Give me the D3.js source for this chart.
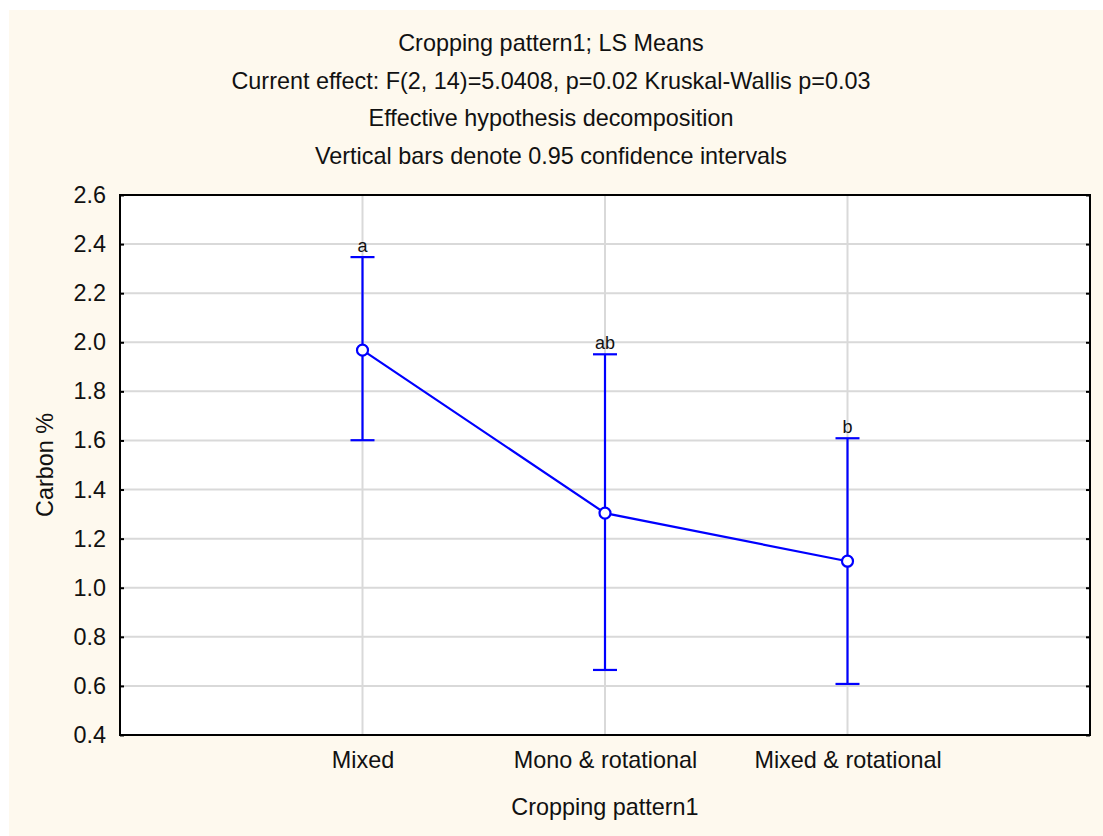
<!DOCTYPE html>
<html>
<head>
<meta charset="utf-8">
<script src="https://cdn.jsdelivr.net/npm/d3@7"></script>
<style>
  body { margin: 0; background: #ffffff; }
  svg text { font-family: "Liberation Sans", Arial, sans-serif; fill: #111; }
</style>
</head>
<body>
<svg id="chart" width="1103" height="836"></svg>
<script>
// data
const categories = ["Mixed", "Mono & rotational", "Mixed & rotational"];
const means = [1.968, 1.304, 1.108];
const lower = [1.601, 0.665, 0.608];
const upper = [2.347, 1.951, 1.609];
const letters = ["a", "ab", "b"];
const yTicks = [0.4, 0.6, 0.8, 1.0, 1.2, 1.4, 1.6, 1.8, 2.0, 2.2, 2.4, 2.6];
const titleLines = [
    "Cropping pattern1; LS Means",
    "Current effect: F(2, 14)=5.0408, p=0.02 Kruskal-Wallis p=0.03",
    "Effective hypothesis decomposition",
    "Vertical bars denote 0.95 confidence intervals"
];

const svg = d3.select("#chart");
const W = 1103, H = 836;
const m = {left: 120, right: 1090, top: 195, bottom: 735};
const fs = "23.4px";

// background
svg.append("rect").attr("x", 9).attr("y", 10).attr("width", W - 9).attr("height", H - 10)
    .style("fill", "#fef9ee");
svg.append("rect").attr("x", m.left).attr("y", m.top)
    .attr("width", m.right - m.left).attr("height", m.bottom - m.top)
    .style("fill", "white");

// scales
const x = d3.scalePoint()
    .domain(["", ...categories, " "])
    .range([m.left, m.right]);
const y = d3.scaleLinear().domain([0.4, 2.6]).range([m.bottom, m.top]);

// gridlines
svg.append("g").selectAll("line")
    .data(yTicks.slice(1, -1)).enter()
    .append("line")
    .attr("x1", m.left).attr("x2", m.right)
    .attr("y1", d => y(d)).attr("y2", d => y(d))
    .style("stroke", "#d9d9d9").style("stroke-width", 2);
svg.append("g").selectAll("line")
    .data(categories).enter()
    .append("line")
    .attr("x1", d => x(d)).attr("x2", d => x(d))
    .attr("y1", m.top).attr("y2", m.bottom)
    .style("stroke", "#d9d9d9").style("stroke-width", 2);

// axes
const axisL = svg.append("g").attr("transform", `translate(${m.left},0)`)
    .call(d3.axisLeft(y).tickValues(yTicks).tickFormat(d3.format(".1f")).tickSizeInner(-4).tickSizeOuter(0).tickPadding(14));
const axisR = svg.append("g").attr("transform", `translate(${m.right},0)`)
    .call(d3.axisRight(y).tickValues(yTicks).tickFormat("").tickSizeInner(-4).tickSizeOuter(0));
const axisB = svg.append("g").attr("transform", `translate(0,${m.bottom})`)
    .call(d3.axisBottom(x).tickValues(categories).tickSize(0).tickPadding(16));
[axisL, axisR, axisB].forEach(g => {
    g.select(".domain").remove();
    g.selectAll(".tick line").style("stroke", "#000").style("stroke-width", 2);
    g.selectAll("text").style("font-size", fs).style("font-family", "Liberation Sans, Arial, sans-serif").style("fill", "#111");
});
axisB.selectAll(".tick line").remove();

// frame
svg.append("rect").attr("x", m.left).attr("y", m.top)
    .attr("width", m.right - m.left).attr("height", m.bottom - m.top)
    .style("fill", "none").style("stroke", "#000").style("stroke-width", 2);

// error bars
const eb = svg.append("g").selectAll("g")
    .data(categories).enter().append("g");
eb.append("line")
    .attr("x1", d => x(d)).attr("x2", d => x(d))
    .attr("y1", (d, i) => y(lower[i])).attr("y2", (d, i) => y(upper[i]));
eb.append("line")
    .attr("x1", d => x(d) - 12).attr("x2", d => x(d) + 12)
    .attr("y1", (d, i) => y(upper[i])).attr("y2", (d, i) => y(upper[i]));
eb.append("line")
    .attr("x1", d => x(d) - 12).attr("x2", d => x(d) + 12)
    .attr("y1", (d, i) => y(lower[i])).attr("y2", (d, i) => y(lower[i]));
eb.selectAll("line").style("stroke", "#0000ff").style("stroke-width", 2.2);

// mean line
svg.append("path")
    .datum(categories)
    .attr("d", d3.line().x(d => x(d)).y((d, i) => y(means[i])))
    .style("fill", "none").style("stroke", "#0000ff").style("stroke-width", 2.2);

svg.append("g").selectAll("circle")
    .data(categories).enter()
    .append("circle")
    .attr("cx", d => x(d)).attr("cy", (d, i) => y(means[i]))
    .attr("r", 5.5)
    .style("fill", "white").style("stroke", "#0000ff").style("stroke-width", 2.2);

// letters
svg.append("g").selectAll("text")
    .data(categories).enter()
    .append("text")
    .attr("x", d => x(d)).attr("y", (d, i) => y(upper[i]) - 5)
    .attr("text-anchor", "middle")
    .style("font-size", "18px")
    .text((d, i) => letters[i]);

// titles
svg.append("g").selectAll("text")
    .data(titleLines).enter()
    .append("text")
    .attr("x", 551).attr("y", (d, i) => 51 + i * 37.7)
    .attr("text-anchor", "middle")
    .style("font-size", fs)
    .text(d => d);

// axis titles
svg.append("text")
    .attr("transform", "translate(53,465) rotate(-90)")
    .attr("text-anchor", "middle")
    .style("font-size", fs)
    .text("Carbon %");
svg.append("text")
    .attr("x", 605).attr("y", 815)
    .attr("text-anchor", "middle")
    .style("font-size", fs)
    .text("Cropping pattern1");
</script>
</body>
</html>
